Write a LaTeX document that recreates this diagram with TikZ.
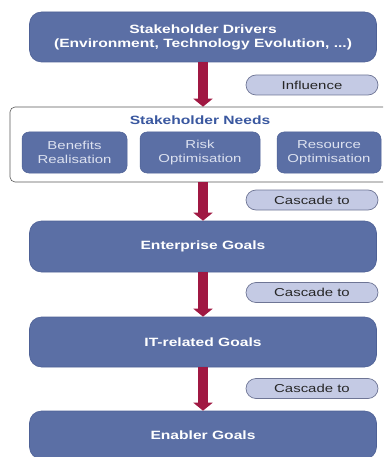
\documentclass[tikz,border=0pt]{standalone}
\usepackage{fontspec}
\setmainfont{Liberation Sans}[FakeStretch=1.3]
\usetikzlibrary{arrows.meta}
\definecolor{boxblue}{HTML}{5B6FA5}
\definecolor{boxedge}{HTML}{4E6196}
\definecolor{arrowred}{HTML}{A01842}
\definecolor{pillfill}{HTML}{C4CAE4}
\definecolor{pilledge}{HTML}{6E7595}
\definecolor{titleblue}{HTML}{3A58A0}
\definecolor{subtext}{HTML}{DDE2F0}
\tikzset{
  mainbox/.style={draw=boxedge, fill=boxblue, rounded corners=12pt, minimum width=347pt,
    text=white, font=\bfseries\fontsize{12}{14}\selectfont, align=center, inner sep=0pt, line width=0.6pt},
  subbox/.style={draw=boxedge, fill=boxblue, rounded corners=7pt, minimum height=41pt,
    text=subtext, font=\fontsize{11.5}{13.5}\selectfont, align=center, inner sep=0pt, line width=0.5pt},
  pill/.style={draw=pilledge, fill=pillfill, rounded corners=10pt, minimum width=132pt, minimum height=20pt,
    text=black!85, font=\fontsize{11.5}{13}\selectfont, inner sep=0pt, line width=0.7pt},
  bigarrow/.style={draw=arrowred, line width=10pt, -{Triangle[width=19pt,length=8pt]}, color=arrowred},
}
\begin{document}
\begin{tikzpicture}[x=1pt,y=-1pt]
\useasboundingbox (0,0) rectangle (383,457);
\clip (0,0) rectangle (383,457);
% outer stakeholder needs container
\node[draw=black!65, fill=white, rounded corners=5pt, minimum width=385pt, minimum height=75pt, line width=0.6pt, inner sep=0pt]
  (needs) at (202.5,144.5) {};
\node[text=titleblue, font=\bfseries\fontsize{12}{14}\selectfont] (needstitle) at (200,120) {Stakeholder Needs};
\node[subbox, minimum width=105pt] (benefits) at (74.5,152.5) {Benefits\\Realisation};
\node[subbox, minimum width=120pt] (risk) at (200,152.5) {Risk\\Optimisation};
\node[subbox, minimum width=104pt] (resource) at (329,152.5) {Resource\\Optimisation};
% main boxes
\node[mainbox, minimum height=50pt] (drivers) at (203,37) {Stakeholder Drivers\\(Environment, Technology Evolution, ...)};
\node[mainbox, minimum height=51pt] (enterprise) at (203,246.5) {Enterprise Goals};
\node[mainbox, minimum height=50pt] (itgoals) at (203,342) {IT-related Goals};
\node[mainbox, minimum height=48pt] (enabler) at (203,435) {Enabler Goals};
% arrows
\draw[bigarrow] (drivers.south) -- (drivers.south |- needs.north);
\draw[bigarrow] (needs.south -| enterprise.north) -- (enterprise.north);
\draw[bigarrow] (enterprise.south) -- (itgoals.north);
\draw[bigarrow] (itgoals.south) -- (enabler.north);
% pills
\node[pill] (influence) at (312,85) {Influence};
\node[pill] (cascade1) at (312,200) {Cascade to};
\node[pill] (cascade2) at (312,292.5) {Cascade to};
\node[pill] (cascade3) at (312,388.5) {Cascade to};
\end{tikzpicture}
\end{document}
